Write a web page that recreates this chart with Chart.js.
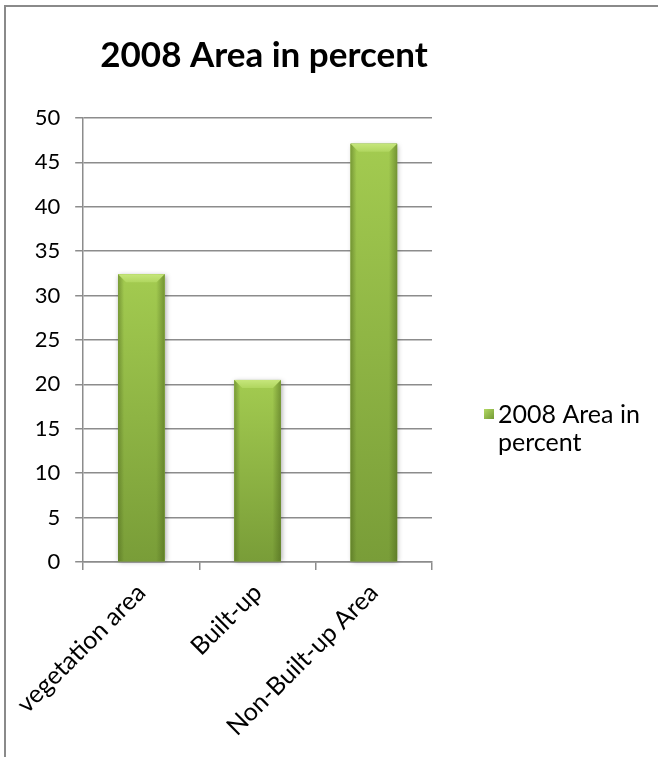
<!DOCTYPE html>
<html>
<head>
<meta charset="utf-8">
<script src="https://cdn.jsdelivr.net/npm/chart.js@4/dist/chart.umd.min.js"></script>
<style>
  html, body { margin: 0; padding: 0; background: #fff; }
  #wrap { position: relative; width: 658px; height: 757px; overflow: hidden; }
  #frame { position: absolute; left: 4px; top: 5px; width: 700px; height: 800px;
           border-left: 2px solid #8a8a8a; border-top: 2px solid #8a8a8a; box-sizing: border-box; }
  canvas { position: absolute; left: 0; top: 0; }
</style>
</head>
<body>
<div id="wrap">
  <div id="frame"></div>
  <canvas id="chart" width="658" height="757"></canvas>
</div>
<script>
// Land cover shares for 2008
const categories = ['vegetation area', 'Built-up', 'Non-Built-up Area'];
const areaPercent = [32.4, 20.5, 47.1];
const seriesName = '2008 Area in percent';
const legendLines = ['2008 Area in', 'percent'];
const yTicks = [0, 5, 10, 15, 20, 25, 30, 35, 40, 45, 50];

const FONT = 'Lato, "Open Sans", sans-serif';
const GRID = '#8c8c8c';

// Chart heading, centred over the plot and legend block
const heading = {
  id: 'heading',
  afterDraw(chart) {
    const ctx = chart.ctx;
    ctx.save();
    ctx.fillStyle = '#000';
    ctx.font = 'bold 35px ' + FONT;
    ctx.textAlign = 'center';
    ctx.textBaseline = 'middle';
    ctx.fillText(seriesName, 264, 56);
    ctx.restore();
  }
};

// Bars get a soft shadow underneath and a glossy bevel on top
const bevelBars = {
  id: 'bevelBars',
  beforeDatasetsDraw(chart) {
    const ctx = chart.ctx;
    chart.getDatasetMeta(0).data.forEach(bar => {
      const { x, y, base, width } = bar.getProps(['x', 'y', 'base', 'width'], true);
      ctx.save();
      ctx.shadowColor = 'rgba(0,0,0,0.35)';
      ctx.shadowBlur = 5;
      ctx.shadowOffsetX = 1;
      ctx.shadowOffsetY = 1;
      ctx.fillStyle = '#86ad40';
      ctx.fillRect(x - width / 2, y, width, base - y);
      ctx.restore();
    });
  },
  afterDatasetsDraw(chart) {
    const ctx = chart.ctx;
    chart.getDatasetMeta(0).data.forEach(bar => {
      const { x, y, base, width } = bar.getProps(['x', 'y', 'base', 'width'], true);
      const l = x - width / 2, r = x + width / 2;
      ctx.save();
      // body: lighter at the top, deeper towards the base
      const body = ctx.createLinearGradient(0, y, 0, base);
      body.addColorStop(0, '#a3cb50');
      body.addColorStop(1, '#799d38');
      ctx.fillStyle = body;
      ctx.fillRect(l, y, width, base - y);
      // darker side edges
      const side = ctx.createLinearGradient(l, 0, r, 0);
      side.addColorStop(0, 'rgba(70,95,25,0.45)');
      side.addColorStop(0.13, 'rgba(70,95,25,0)');
      side.addColorStop(0.82, 'rgba(70,95,25,0)');
      side.addColorStop(1, 'rgba(70,95,25,0.5)');
      ctx.fillStyle = side;
      ctx.fillRect(l, y, width, base - y);
      // top bevel
      const b = 8;
      const top = ctx.createLinearGradient(0, y, 0, y + b);
      top.addColorStop(0, '#c6e67b');
      top.addColorStop(1, '#b0d65f');
      ctx.fillStyle = top;
      ctx.beginPath();
      ctx.moveTo(l, y);
      ctx.lineTo(r, y);
      ctx.lineTo(r - b, y + b);
      ctx.lineTo(l + b, y + b);
      ctx.closePath();
      ctx.fill();
      ctx.restore();
    });
  }
};

// Two-line legend entry at the right of the plot
const sideLegend = {
  id: 'sideLegend',
  afterDraw(chart) {
    const ctx = chart.ctx;
    const area = chart.chartArea;
    const mx = area.right + 52;
    const my = area.bottom - 153;
    ctx.save();
    const g = ctx.createLinearGradient(mx, my, mx + 10, my + 10);
    g.addColorStop(0, '#b3d963');
    g.addColorStop(1, '#739a35');
    ctx.fillStyle = g;
    ctx.fillRect(mx, my, 10, 10);
    ctx.fillStyle = '#000';
    ctx.font = '25px ' + FONT;
    ctx.textBaseline = 'middle';
    ctx.textAlign = 'left';
    legendLines.forEach((t, i) => ctx.fillText(t, mx + 14, my + 6 + i * 28));
    ctx.restore();
  }
};

new Chart(document.getElementById('chart'), {
  type: 'bar',
  data: {
    labels: categories,
    datasets: [{
      label: seriesName,
      data: areaPercent,
      backgroundColor: '#8fb944',
      borderWidth: 0,
      categoryPercentage: 0.8,
      barPercentage: 0.5
    }]
  },
  options: {
    responsive: false,
    animation: false,
    devicePixelRatio: 1,
    layout: { padding: { top: 118, right: 226, bottom: 0, left: 0 } },
    plugins: {
      legend: { display: false },
      tooltip: { enabled: false },
      title: { display: false }
    },
    scales: {
      x: {
        grid: { display: true, drawOnChartArea: false, drawTicks: true, tickLength: 8, color: GRID, lineWidth: 1.5, offset: true },
        border: { display: true, color: GRID, width: 1.5 },
        ticks: { color: '#000', font: { family: FONT, size: 25 }, minRotation: 45, maxRotation: 45, padding: 8 },
        afterFit(scale) { scale.height = 195; }
      },
      y: {
        min: 0,
        max: 50,
        afterBuildTicks(scale) { scale.ticks = yTicks.map(v => ({ value: v })); },
        grid: { color: GRID, lineWidth: 1.5, tickLength: 8 },
        border: { display: true, color: GRID, width: 1.5 },
        ticks: { color: '#000', font: { family: FONT, size: 22 }, padding: 15 },
        afterFit(scale) { scale.width = 81; }
      }
    }
  },
  plugins: [bevelBars, sideLegend, heading]
});
</script>
</body>
</html>
